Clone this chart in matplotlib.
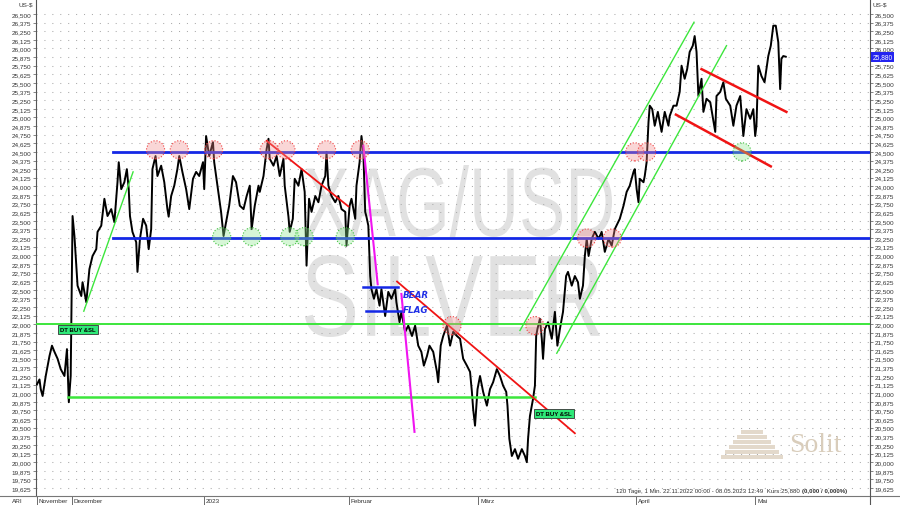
import matplotlib
matplotlib.use("Agg")
import matplotlib.pyplot as plt
import matplotlib.transforms as mtransforms
from matplotlib.lines import Line2D
from matplotlib.patches import PathPatch, Rectangle
from matplotlib.textpath import TextPath
from matplotlib.font_manager import FontProperties
from matplotlib.ticker import FuncFormatter, FixedLocator

# trading days since 22.11.2022 and XAG/USD price (US-$)
days = [
    0.0, 0.4, 0.6, 0.9, 1.4, 2.0, 2.4, 2.8, 3.3, 3.8, 4.4, 4.8, 5.1, 5.4, 5.7, 6.0, 6.5, 7.1, 7.3, 7.9,
    8.4, 8.9, 9.5, 9.7, 10.3, 10.8, 11.3, 11.9, 12.4, 12.9, 13.1, 13.5, 14.0, 14.4, 14.7, 14.9, 15.3, 15.9,
    16.1, 16.5, 17.0, 17.5, 17.9, 18.3, 18.5, 19.0, 19.3, 19.9, 20.4, 20.9, 21.1, 21.5, 22.0, 22.5, 22.8,
    23.3, 23.9, 24.4, 25.0, 25.5, 26.0, 26.6, 26.8, 27.1, 27.6, 28.2, 28.4, 29.0, 29.5, 29.9, 30.3, 30.8,
    31.4, 31.9,
    32.5, 33.1, 33.6, 34.1, 34.4, 34.9, 35.5, 35.7, 36.3, 36.8, 37.1, 37.3, 37.9, 38.4, 38.9, 39.5, 39.7,
    40.3, 40.5, 41.0, 41.3, 41.9, 42.4, 42.9, 43.2, 43.6, 44.0, 44.6, 45.1, 45.6, 46.2, 46.4, 46.7, 47.2,
    47.8, 48.3, 48.8, 49.4, 49.6, 50.1, 50.4, 51.0, 51.2, 51.7, 52.0, 52.3, 52.6, 52.8, 53.1, 53.4, 53.6,
    54.0, 54.4, 54.9, 55.2, 55.8, 56.3, 56.8, 57.4, 57.6, 58.1, 58.4, 59.0, 59.5, 60.1, 60.6, 61.1, 61.6,
    62.0, 62.5, 62.9,
    63.5, 64.1, 64.3, 64.7, 65.1, 65.7, 66.2, 66.7, 67.3, 67.8, 68.3, 68.9, 69.4, 69.7, 69.9, 70.2, 70.6,
    71.0, 71.5, 72.1, 72.6, 73.1, 73.7, 74.2, 74.7, 75.2, 75.4, 75.7, 76.1, 76.6, 77.1, 77.7, 78.2, 78.5,
    78.7, 79.0, 79.3, 79.5, 79.8, 80.0, 80.2, 80.6, 80.9, 81.1, 81.4, 81.9, 82.5, 83.0, 83.4, 83.8, 84.3,
    84.8, 85.1, 85.7, 86.2, 86.7, 87.0, 87.5, 87.8, 88.1, 88.4, 88.9, 89.4, 90.0, 90.5, 91.0, 91.6, 92.1,
    92.6, 93.4,
    94.0, 94.5, 95.0, 95.6, 95.8, 96.1, 96.4, 96.6, 97.2, 97.4, 97.7, 98.0, 98.2, 98.6, 99.0, 99.5, 100.1,
    100.6, 101.2, 101.4, 102.0, 102.5, 103.0, 103.3, 103.8, 104.2, 104.6, 105.1, 105.4, 105.7, 106.0,
    106.3, 106.5, 106.8, 107.3, 107.9, 108.7, 108.9, 109.5, 110.0, 110.4, 111.1, 111.6, 112.1, 112.7,
    113.2, 113.7, 114.3, 114.8, 115.1, 115.3, 115.6, 116.1, 116.6, 117.2, 117.6, 118.0, 118.4, 118.8,
    119.1, 119.3, 119.6, 120.0,
]
price = [
    21.13, 21.20, 21.06, 20.96, 21.25, 21.54, 21.69, 21.60, 21.50, 21.35, 21.25, 21.64, 20.87, 21.25,
    23.57, 23.28, 22.56, 22.41, 22.61, 22.32, 22.80, 22.99, 23.09, 23.34, 23.43, 23.82, 23.57, 23.67,
    23.48, 24.06, 24.35, 23.96, 24.06, 24.25, 23.96, 23.57, 23.34, 23.19, 22.76, 23.24, 23.53, 23.43,
    23.09, 23.38, 24.25, 24.44, 24.15, 24.30, 24.06, 23.67, 23.56, 23.86, 24.01, 24.25, 24.44, 24.21,
    23.96, 23.67, 24.11, 24.21, 24.15, 24.35, 23.96, 24.73, 24.44, 24.64, 24.35, 23.96, 23.63, 23.28,
    23.48, 23.72, 24.15, 24.06,
    23.72, 23.67, 23.86, 24.01, 23.38, 23.72, 24.01, 23.92, 24.15, 24.54, 24.69, 24.40, 24.30, 24.44,
    24.15, 24.40, 24.01, 23.56, 23.34, 23.53, 24.11, 24.01, 24.25, 23.92, 22.85, 23.82, 23.63, 23.86,
    23.77, 24.01, 24.15, 24.50, 24.01, 23.86, 23.77, 23.86, 23.67, 23.63, 23.14, 23.72, 23.82, 23.53,
    24.01, 24.35, 24.73, 24.50, 23.63, 23.56, 23.43, 22.70, 22.51, 22.37, 22.51, 22.27, 22.51, 22.12,
    22.47, 22.37, 22.51, 22.32, 22.03, 22.18, 21.89, 21.98, 21.83, 21.98, 21.69, 21.60, 21.40, 21.54,
    21.69,
    21.60, 21.31, 21.16, 21.69, 21.83, 21.98, 21.69, 21.89, 21.83, 21.79, 21.50, 21.40, 21.31, 21.02,
    20.77, 20.53, 21.06, 21.25, 21.02, 20.82, 21.06, 21.16, 21.35, 21.25, 21.11, 21.02, 20.82, 20.34,
    20.09, 20.19, 20.05, 20.19, 20.09, 20.00, 20.34, 20.67, 20.82, 20.92, 21.11, 21.83, 21.93, 22.08,
    21.79, 21.50, 21.93, 22.03, 21.79, 22.18, 21.69, 21.93, 22.18, 22.70, 22.76, 22.56, 22.70, 22.61,
    22.37, 22.56, 22.99, 23.24, 22.99, 23.24, 23.34, 23.24, 23.34, 23.05, 23.24, 23.14, 23.38, 23.53,
    23.72, 23.92, 24.01, 24.21, 24.25, 23.96, 23.77, 24.11, 24.06, 24.15, 24.35, 24.93, 25.17, 25.12,
    24.88, 25.08, 24.79, 25.08, 24.88, 25.02, 25.17, 25.17, 25.37, 25.75, 25.56, 25.70, 25.95, 26.04,
    26.18, 25.95, 25.31, 25.46, 25.56, 25.08, 25.27, 25.22, 24.79, 25.31, 25.37, 25.51, 25.27, 25.17,
    24.88, 25.17, 25.31, 24.73, 25.12, 24.98, 25.12, 24.73, 24.88, 25.75, 25.60, 25.51, 25.89, 26.04,
    26.33, 26.33, 26.09, 25.41, 25.85, 25.89, 25.88,
]

months = ["November", "Dezember", "2023", "Februar", "März", "April", "Mai"]
month_start = [0.0, 5.6, 26.8, 50.0, 70.7, 96.0, 115.1]
price_ticks = [19.625 + 0.125 * i for i in range(56)]

last_price = 25.880
blue_levels = [24.5, 23.25]
green_level = 22.0
dt_level = 20.95

# drawn analysis: ((day, price), (day, price))
green_trends = [((7.5, 22.19), (15.4, 24.21)),
                ((77.4, 21.91), (105.3, 26.38)),
                ((83.3, 21.58), (110.5, 26.04))]
red_trends = [((36.8, 24.66), (49.9, 23.71)),
              ((57.7, 22.62), (86.2, 20.42)),
              ((106.5, 25.70), (120.1, 25.08)),
              ((102.4, 25.04), (117.6, 24.29))]
magenta_trends = [((52.3, 24.59), (54.6, 22.58)),
                  ((58.4, 22.44), (60.5, 20.44))]
flag_lines = [((52.3, 22.54), (57.9, 22.54)),
              ((52.7, 22.19), (58.4, 22.19))]

top_days = [19.0, 22.8, 28.3, 37.2, 39.9, 46.4, 51.8, 66.5, 79.8, 88.1, 92.2, 95.8, 97.7]
top_price = [24.53, 24.53, 24.53, 24.53, 24.53, 24.53, 24.53, 21.98, 21.98, 23.25, 23.25, 24.50, 24.50]
bottom_days = [29.6, 34.4, 40.5, 42.8, 49.4, 113.0]
bottom_price = [23.27, 23.27, 23.27, 23.27, 23.27, 24.50]

W, H = 900, 506
plt.rcParams["font.family"] = ["Liberation Sans", "DejaVu Sans"]
fig = plt.figure(figsize=(9, 5.06), dpi=100)
ax = fig.add_axes([36 / W, 9 / H, 834 / W, 497 / H])
ax.set_xlim(-0.16, 133.5)
ax.set_ylim(19.51, 26.717)


# watermark, squeezed like the original
def watermark(txt, x0, x1, ytop, ybot):
    tp = TextPath((0, 0), txt, size=1, prop=FontProperties(family="Liberation Sans"))
    ext = tp.get_extents()
    sx = (x1 - x0) / W / ext.width
    sy = (ybot - ytop) / H / ext.height
    tr = mtransforms.Affine2D().translate(-ext.x0, -ext.y0).scale(sx, sy).translate(x0 / W, 1 - ybot / H)
    ax.add_patch(PathPatch(tp, transform=tr + fig.transFigure, fc="#e1e1e1", ec="none", zorder=0.5))


watermark("XAG/USD", 305, 612, 166, 238)
watermark("SILVER", 305, 600, 256, 338)

for y in price_ticks:
    ax.axhline(y, color="#ababab", lw=0.75, ls=(0, (1, 6.6)), zorder=1)

ax.plot(days, price, color="black", lw=1.4, zorder=4)

for lvl in blue_levels:
    ax.plot([12.2, 133.5], [lvl, lvl], color="#1428e6", lw=2.0, zorder=5)
ax.axhline(green_level, color="#3ce63c", lw=1.4, zorder=5)
ax.plot([5.0, 79.8], [dt_level, dt_level], color="#3ce63c", lw=1.8, zorder=5)
for (a, b) in green_trends:
    ax.plot([a[0], b[0]], [a[1], b[1]], color="#3ce63c", lw=1.0, zorder=5)
for (a, b) in red_trends:
    ax.plot([a[0], b[0]], [a[1], b[1]], color="#f01414", lw=1.3 if a[0] < 100 else 1.8, zorder=5)
for (a, b) in magenta_trends:
    ax.plot([a[0], b[0]], [a[1], b[1]], color="#f014f0", lw=1.5, zorder=5)
for (a, b) in flag_lines:
    ax.plot([a[0], b[0]], [a[1], b[1]], color="#1428e6", lw=1.8, zorder=5)

ax.scatter(top_days, top_price, s=170, facecolor=(0.95, 0.55, 0.55, 0.35), edgecolor="#f04040",
           linestyle=":", linewidth=0.8, zorder=6)
ax.scatter(bottom_days, bottom_price, s=170, facecolor=(0.55, 0.9, 0.55, 0.35), edgecolor="#40c040",
           linestyle=":", linewidth=0.8, zorder=6)

ax.text(58.6, 22.43, "BEAR", color="#2030e6", fontsize=6.3, fontweight="bold", style="italic",
        family="DejaVu Sans", va="center", ha="left", zorder=7)
ax.text(58.6, 22.21, "FLAG", color="#2030e6", fontsize=6.3, fontweight="bold", style="italic",
        family="DejaVu Sans", va="center", ha="left", zorder=7)

box = dict(boxstyle="square,pad=0.35", fc="#2ee878", ec="#333333", lw=0.6)
ax.text(6.6, 21.92, "DT BUY &SL", fontsize=4.3, fontweight="bold", ha="center", va="center", bbox=box, zorder=8)
ax.text(82.8, 20.71, "DT BUY &SL", fontsize=4.3, fontweight="bold", ha="center", va="center", bbox=box, zorder=8)

# Solit logo
for i in range(6):
    w = 62 - i * 8
    y0 = 460 - i * 5
    ax.add_patch(Rectangle(((752 - w / 2) / W, 1 - y0 / H), w / W, 4.0 / H, transform=fig.transFigure,
                           fc="#e3d9cb", ec="none", zorder=2))
ax.text(815 / W, 1 - 446 / H, "Solit", transform=fig.transFigure, fontsize=20, family="Liberation Serif",
        color="#d9cdbb", ha="center", va="center", zorder=2)

# axes and ticks
for s in ["top", "bottom"]:
    ax.spines[s].set_visible(False)
for s in ["left", "right"]:
    ax.spines[s].set_color("#555555")
    ax.spines[s].set_linewidth(0.8)
ax.yaxis.set_major_locator(FixedLocator(price_ticks))
ax.yaxis.set_major_formatter(FuncFormatter(lambda v, p: f"{v:.3f}".replace(".", ",")))
ax.tick_params(axis="y", left=True, right=True, labelleft=True, labelright=True, length=2.5,
               width=0.5, color="#555555", labelsize=4.6, labelcolor="#333333", pad=1)
ax.set_xticks([])
# the last-price box covers the 25,875 label on the right
for t, v in zip(ax.yaxis.get_major_ticks(), price_ticks):
    if abs(v - last_price) < 0.06:
        t.label2.set_visible(False)

xt = ax.get_xaxis_transform()
for lab, d in zip(months, month_start):
    ax.plot([d, d], [0, -9 / 497], transform=xt, color="#555555", lw=0.6, clip_on=False)
    ax.text(d + 0.3, -5 / 497, lab, transform=xt, fontsize=4.6, color="#333333", ha="left", va="center")
fig.add_artist(Line2D([0, 1], [9 / H, 9 / H], color="#777777", lw=0.8))
fig.add_artist(Line2D([870 / W, 870 / W], [0, 9 / H], color="#555555", lw=0.8))
fig.text(17 / W, 4 / H, "ARI", fontsize=4.6, color="#333333", ha="center", va="center")
fig.text(26 / W, 1 - 5 / H, "US-$", fontsize=4.6, color="#333333", ha="center", va="center")
fig.text(880 / W, 1 - 5 / H, "US-$", fontsize=4.6, color="#333333", ha="center", va="center")

bt = mtransforms.blended_transform_factory(ax.transAxes, ax.transData)
ax.text(1.003, last_price, f"{last_price:.3f}".replace(".", ","), transform=bt, fontsize=4.8,
        color="white", ha="left", va="center", clip_on=False,
        bbox=dict(boxstyle="square,pad=0.2", fc="#2424f0", ec="none"))

fig.text(800 / W, 1 - 492 / H, "120 Tage, 1 Min. 22.11.2022 00:00 - 08.05.2023 12:49  Kurs:25,880",
         fontsize=4.4, color="#333333", ha="right", va="center")
fig.text(802 / W, 1 - 492 / H, "(0,000 / 0,000%)", fontsize=4.4, color="#333333", fontweight="bold",
         ha="left", va="center")

fig.savefig("out.png", dpi=100, facecolor="white")
